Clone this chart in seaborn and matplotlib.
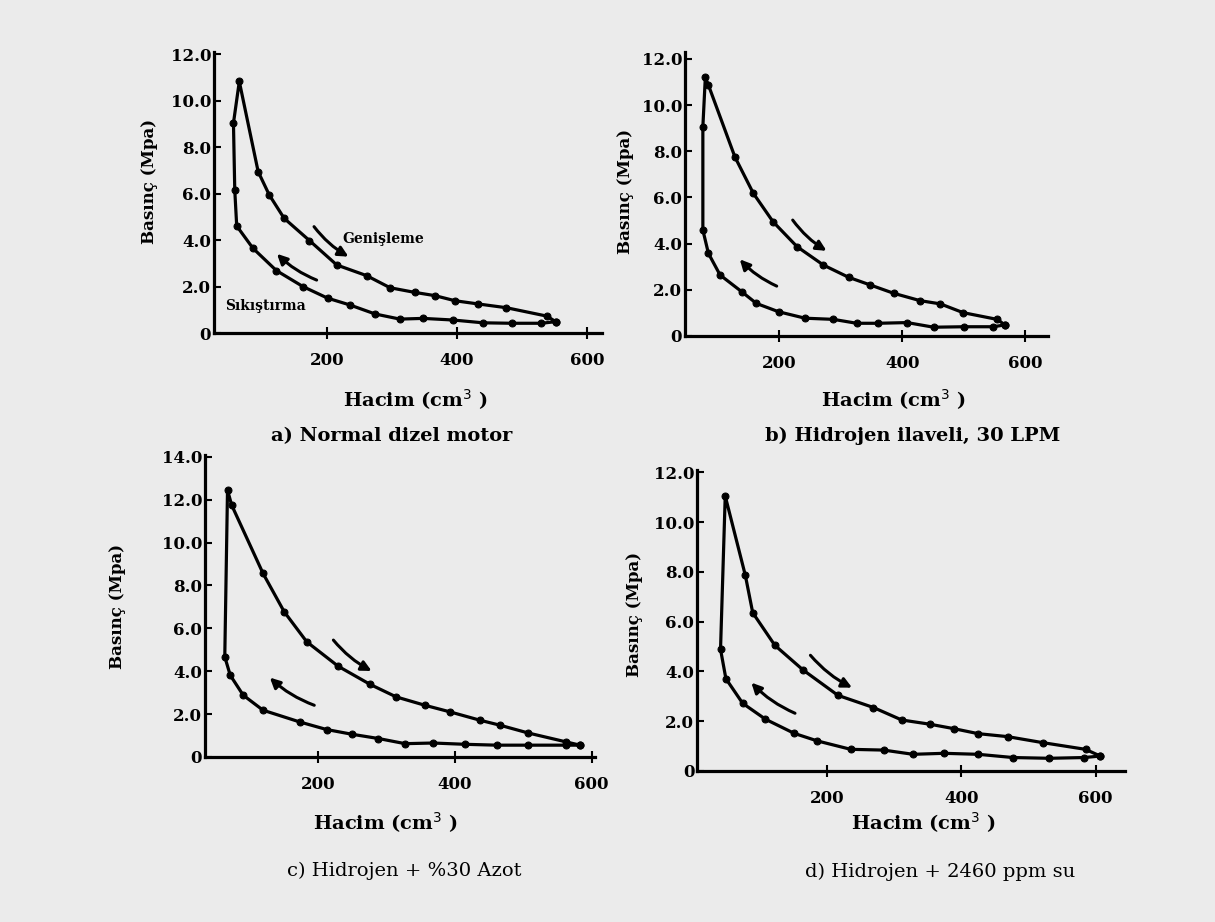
import pandas as pd
import matplotlib
matplotlib.use("Agg")
import matplotlib.pyplot as plt
import seaborn as sns

# a) Normal dizel motor
a_comp_v = [552, 530, 484, 440, 394, 348, 312, 274, 235, 201, 163, 122, 86, 61, 58, 56]
a_comp_p = [0.49, 0.42, 0.42, 0.44, 0.56, 0.63, 0.60, 0.82, 1.21, 1.50, 2.00, 2.69, 3.65, 4.61, 6.16, 9.04]
a_exp_v = [65, 94, 111, 134, 173, 215, 261, 297, 335, 366, 397, 433, 476, 538, 552]
a_exp_p = [10.83, 6.95, 5.95, 4.94, 3.98, 2.93, 2.47, 1.95, 1.75, 1.61, 1.39, 1.25, 1.09, 0.73, 0.49]

# b) Hidrojen ilaveli, 30 LPM
b_comp_v = [567, 548, 500, 451, 408, 361, 326, 288, 242, 199, 163, 139, 104, 85, 76, 76]
b_comp_p = [0.48, 0.40, 0.40, 0.38, 0.58, 0.55, 0.55, 0.72, 0.77, 1.05, 1.41, 1.92, 2.64, 3.58, 4.59, 9.06]
b_exp_v = [80, 85, 128, 158, 190, 229, 272, 313, 348, 386, 429, 462, 499, 554, 567]
b_exp_p = [11.2, 10.87, 7.76, 6.18, 4.95, 3.87, 3.07, 2.54, 2.21, 1.85, 1.53, 1.39, 1.01, 0.72, 0.48]

# c) Hidrojen + %30 Azot
c_comp_v = [583, 563, 507, 461, 415, 368, 327, 288, 249, 212, 173, 119, 90, 71, 63]
c_comp_p = [0.55, 0.55, 0.55, 0.55, 0.59, 0.65, 0.62, 0.86, 1.06, 1.28, 1.63, 2.18, 2.88, 3.81, 4.67]
c_exp_v = [67, 73, 119, 150, 183, 229, 276, 314, 356, 393, 437, 466, 507, 563, 583]
c_exp_p = [12.45, 11.75, 8.56, 6.77, 5.37, 4.23, 3.38, 2.80, 2.41, 2.10, 1.71, 1.48, 1.12, 0.70, 0.55]

# d) Hidrojen + 2460 ppm su
d_comp_v = [607, 583, 531, 477, 425, 374, 328, 284, 235, 185, 151, 108, 74, 49, 41]
d_comp_p = [0.60, 0.54, 0.51, 0.54, 0.67, 0.71, 0.67, 0.84, 0.87, 1.21, 1.51, 2.08, 2.72, 3.71, 4.89]
d_exp_v = [48, 78, 89, 122, 164, 216, 269, 311, 353, 389, 425, 469, 521, 585, 607]
d_exp_p = [11.05, 7.86, 6.36, 5.05, 4.06, 3.04, 2.55, 2.05, 1.88, 1.70, 1.50, 1.38, 1.14, 0.87, 0.60]

captions = ["a) Normal dizel motor", "b) Hidrojen ilaveli, 30 LPM",
            "c) Hidrojen + %30 Azot", "d) Hidrojen + 2460 ppm su"]
y_tops = [12, 12, 14, 12]

bg = "#ebebeb"
sns.set_theme(style="white")
plt.rcParams["font.family"] = ["DejaVu Serif", "DejaVu Sans"]
plt.rcParams["text.color"] = "black"
plt.rcParams["axes.labelcolor"] = "black"
plt.rcParams["xtick.color"] = "black"
plt.rcParams["ytick.color"] = "black"

fig = plt.figure(figsize=(12.15, 9.22), dpi=100, facecolor=bg)

panels = [
    dict(rect=[0.1761, 0.6388, 0.3193, 0.3048], xlim=(26, 623), ylim=(0, 12.1),
         comp=(a_comp_v, a_comp_p), exp=(a_exp_v, a_exp_p),
         ylab=(-0.165, 0.54), xlab=(0.52, -0.238), cap=(0.3226, 0.527),
         arr_e=((180, 4.58), (233, 3.29)), arr_c=((184, 2.28), (123, 3.41))),
    dict(rect=[0.5638, 0.6356, 0.2988, 0.3080], xlim=(47, 637), ylim=(0, 12.3),
         comp=(b_comp_v, b_comp_p), exp=(b_exp_v, b_exp_p),
         ylab=(-0.165, 0.51), xlab=(0.573, -0.225), cap=(0.7510, 0.527),
         arr_e=((222, 5.02), (277, 3.69)), arr_c=((196, 2.16), (136, 3.32))),
    dict(rect=[0.1687, 0.1790, 0.3210, 0.3275], xlim=(34, 605), ylim=(0, 14.08),
         comp=(c_comp_v, c_comp_p), exp=(c_exp_v, c_exp_p),
         ylab=(-0.223, 0.50), xlab=(0.464, -0.219), cap=(0.3325, 0.055),
         arr_e=((222, 5.45), (278, 4.01)), arr_c=((194, 2.41), (129, 3.70))),
    dict(rect=[0.5737, 0.1638, 0.3523, 0.3265], xlim=(6, 644), ylim=(0, 12.1),
         comp=(d_comp_v, d_comp_p), exp=(d_exp_v, d_exp_p),
         ylab=(-0.145, 0.52), xlab=(0.53, -0.173), cap=(0.7737, 0.054),
         arr_e=((175, 4.65), (237, 3.35)), arr_c=((152, 2.32), (87, 3.55))),
]

for i, pn in enumerate(panels):
    ax = fig.add_axes(pn["rect"])
    ax.set_facecolor(bg)
    df = pd.DataFrame({"Hacim": list(pn["comp"][0]) + list(pn["exp"][0]),
                       "Basinc": list(pn["comp"][1]) + list(pn["exp"][1])})
    sns.lineplot(data=df, x="Hacim", y="Basinc", sort=False, estimator=None,
                 color="black", lw=2.3, marker="o", markersize=5,
                 markeredgecolor="black", ax=ax)
    ax.set_xlim(*pn["xlim"])
    ax.set_ylim(*pn["ylim"])

    yt = list(range(0, y_tops[i] + 1, 2))
    ax.set_yticks(yt)
    ax.set_yticklabels(["0"] + [f"{v:.1f}" for v in yt[1:]])
    ax.set_xticks([200, 400, 600])
    ax.set_xticklabels(["200", "400", "600"])
    ax.tick_params(axis="y", direction="in", length=5, width=1.5, pad=2,
                   labelsize=12, left=True)
    ax.tick_params(axis="x", direction="inout", length=8, width=1.5, pad=10,
                   labelsize=12, bottom=True)
    for lbl in ax.get_xticklabels() + ax.get_yticklabels():
        lbl.set_fontweight("bold")

    for side in ["top", "right"]:
        ax.spines[side].set_visible(False)
    for side in ["left", "bottom"]:
        ax.spines[side].set_linewidth(2.3)
        ax.spines[side].set_color("black")

    ax.set_ylabel("Basınç (Mpa)", fontsize=12, fontweight="bold")
    ax.yaxis.set_label_coords(*pn["ylab"])
    ax.yaxis.label.set_verticalalignment("center")
    ax.set_xlabel("Hacim (cm$^3$ )", fontsize=14, fontweight="bold")
    ax.xaxis.set_label_coords(*pn["xlab"])
    ax.xaxis.label.set_verticalalignment("center")

    ax.annotate("", xy=pn["arr_e"][1], xytext=pn["arr_e"][0],
                arrowprops=dict(arrowstyle="-|>", color="black", lw=2.2,
                                mutation_scale=15, shrinkA=0, shrinkB=0,
                                connectionstyle="arc3,rad=0.1"))
    ax.annotate("", xy=pn["arr_c"][1], xytext=pn["arr_c"][0],
                arrowprops=dict(arrowstyle="-|>", color="black", lw=2.2,
                                mutation_scale=15, shrinkA=0, shrinkB=0,
                                connectionstyle="arc3,rad=-0.1"))

    if i == 0:
        ax.text(223, 4.04, "Genişleme", fontsize=10, fontweight="bold",
                ha="left", va="center")
        ax.text(43, 1.16, "Sıkıştırma", fontsize=10, fontweight="bold",
                ha="left", va="center")

    fig.text(pn["cap"][0], pn["cap"][1], captions[i], fontsize=14,
             fontweight="bold" if i < 2 else "normal", ha="center", va="center")

fig.savefig("out.png", dpi=100, facecolor=bg)
